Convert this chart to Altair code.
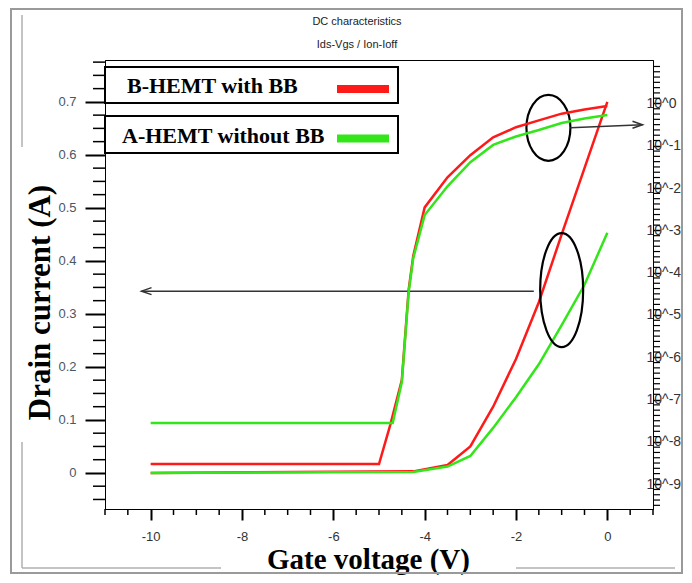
import altair as alt
import pandas as pd

# ---------------- data ----------------
series_names = ["B-HEMT with BB", "A-HEMT without BB"]
series_colors = ["#ff1a1a", "#33e61a"]

# linear Ids (left axis, A)
vgs_lin = [-10.0, -4.25, -3.5, -3.0, -2.5, -2.0, -1.5, -1.0, -0.5, 0.0]
ids_lin_b = [0.0, 0.003, 0.015, 0.05, 0.125, 0.215, 0.322, 0.45, 0.575, 0.70]
ids_lin_a = [0.0, 0.002, 0.012, 0.032, 0.085, 0.143, 0.205, 0.279, 0.355, 0.453]

# log Ids (right axis, A)
vgs_log_b = [-10.0, -5.0, -4.75, -4.5, -4.35, -4.25, -4.0, -3.5, -3.0, -2.5, -2.0, -1.5, -1.0, -0.5, 0.0]
ids_log_b = [3.0e-9, 3.0e-9, 2.6e-8, 2.9e-7, 4.0e-5, 2.5e-4, 3.5e-3, 1.8e-2, 6.0e-2,
             0.158, 0.275, 0.40, 0.575, 0.72, 0.87]
vgs_log_a = [-10.0, -4.7, -4.5, -4.35, -4.25, -4.0, -3.5, -3.0, -2.5, -2.0, -1.5, -1.0, -0.5, 0.0]
ids_log_a = [2.8e-8, 2.8e-8, 2.6e-7, 3.5e-5, 2.2e-4, 2.3e-3, 1.1e-2, 4.1e-2,
             0.105, 0.166, 0.236, 0.347, 0.44, 0.537]

# axis ticks
x_ticks = [-10, -8, -6, -4, -2, 0]
x_minor = [v / 2 for v in range(-22, 3) if v % 4 != 0]
y_ticks = [0.0, 0.1, 0.2, 0.3, 0.4, 0.5, 0.6, 0.7]
y_minor = [v / 40 for v in range(-2, 32) if v % 4 != 0]
log_ticks = [1e-9, 1e-8, 1e-7, 1e-6, 1e-5, 1e-4, 1e-3, 1e-2, 1e-1, 1.0]
log_minor = [10 ** (k / 8) for k in range(-76, 9) if k % 8 != 0]

# annotations (ellipse centres and arrows, in data units)
ell_vgs = [-1.29, -1.0]
ell_ids = [0.651, 0.345]
arrow1_vgs = [-0.81, 0.77]
arrow1_ids = [0.651, 0.657]
arrow2_vgs = [-1.61, -10.2]
arrow2_ids = [0.343, 0.343]

titles = ["DC characteristics", "Ids-Vgs / Ion-Ioff"]

# ---------------- chart ----------------
W, H = 548, 449
SERIF = "Liberation Serif"
SANS = "Liberation Sans"

x_scale = alt.Scale(domain=[-11, 1], nice=False, zero=False)
ylin_scale = alt.Scale(domain=[-0.068, 0.779], nice=False, zero=False)
ylog_scale = alt.Scale(type="log", domain=[2.59e-10, 10.67], nice=False)

x_axis = alt.Axis(values=x_ticks, labelExpr="'' + datum.value", tickSize=11, tickWidth=2,
                  tickColor="black", domainColor="black", labelFont=SANS, labelFontSize=13,
                  labelColor="#333333", labelPadding=10, grid=False,
                  title="Gate voltage (V)", titleFont=SERIF, titleFontSize=29,
                  titleFontWeight="bold", titleColor="black", titleX=263, titleY=50,
                  titleAlign="center", titleBaseline="middle")
left_axis = alt.Axis(values=y_ticks, format=".1~f", tickSize=20, tickWidth=2,
                     tickColor="black", domainColor="black", labelFont=SANS,
                     labelFontSize=13, labelColor="#4b5665", labelPadding=9, grid=False,
                     title="Drain current (A)", titleFont=SERIF, titleFontSize=31,
                     titleFontWeight="bold", titleColor="black", titleX=-65, titleY=242,
                     titleAngle=-90, titleAlign="center", titleBaseline="middle")
right_axis = alt.Axis(orient="right", values=log_ticks,
                      labelExpr="'10^' + round(log(datum.value) / LN10)",
                      tickSize=7, tickWidth=1.5, tickColor="black", domainColor="black",
                      labelFont=SANS, labelFontSize=14, labelColor="#333333",
                      labelPadding=-14, labelAlign="left", grid=False, title=None)

def df(xs, ys):
    return pd.DataFrame({"vgs": xs, "ids": ys})

X = alt.X("vgs:Q", scale=x_scale, axis=x_axis)
YL = alt.Y("ids:Q", scale=ylin_scale, axis=left_axis)
YG = alt.Y("ids:Q", scale=ylog_scale, axis=right_axis)

# linear group
red_lin = alt.Chart(df(vgs_lin, ids_lin_b)).mark_line(color=series_colors[0], strokeWidth=2.5).encode(x=X, y=YL)
green_lin = alt.Chart(df(vgs_lin, ids_lin_a)).mark_line(color=series_colors[1], strokeWidth=2.5).encode(x=X, y=YL)

ylin_minor = alt.Chart(pd.DataFrame({"ids": y_minor})).mark_rule(color="black", strokeWidth=1.5).encode(
    y=YL, x=alt.value(-12), x2=alt.value(0))
x_minor_rules = alt.Chart(pd.DataFrame({"vgs": x_minor})).mark_rule(color="black", strokeWidth=1.5).encode(
    x=X, y=alt.value(H), y2=alt.value(H + 6))

ell1 = alt.Chart(df(ell_vgs[:1], ell_ids[:1])).mark_point(
    shape="M0,-1.5C0.552,-1.5 1,-0.828 1,0C1,0.828 0.552,1.5 0,1.5C-0.552,1.5 -1,0.828 -1,0C-1,-0.828 -0.552,-1.5 0,-1.5Z",
    size=1936, filled=False, stroke="black", strokeWidth=2.2, opacity=1).encode(x=X, y=YL)
ell2 = alt.Chart(df(ell_vgs[1:], ell_ids[1:])).mark_point(
    shape="M0,-2.65C0.552,-2.65 1,-1.464 1,0C1,1.464 0.552,2.65 0,2.65C-0.552,2.65 -1,1.464 -1,0C-1,-1.464 -0.552,-2.65 0,-2.65Z",
    size=1849, filled=False, stroke="black", strokeWidth=2.2, opacity=1).encode(x=X, y=YL)

arr1 = alt.Chart(df(arrow1_vgs, arrow1_ids)).mark_line(color="#333333", strokeWidth=1.5).encode(x=X, y=YL)
arr2 = alt.Chart(df(arrow2_vgs, arrow2_ids)).mark_line(color="#333333", strokeWidth=1.5).encode(x=X, y=YL)
head1 = alt.Chart(df(arrow1_vgs[1:], arrow1_ids[1:])).mark_point(
    shape="M-1,-0.7L1,0L-1,0.7", size=100, filled=False, stroke="#333333", strokeWidth=1.5, opacity=1).encode(
    x=X, y=YL, xOffset=alt.value(-5))
head2 = alt.Chart(df(arrow2_vgs[1:], arrow2_ids[1:])).mark_point(
    shape="M1,-0.7L-1,0L1,0.7", size=100, filled=False, stroke="#333333", strokeWidth=1.5, opacity=1).encode(
    x=X, y=YL, xOffset=alt.value(5))

lin_group = alt.layer(red_lin, green_lin, ylin_minor, x_minor_rules, ell1, ell2, arr1, arr2, head1, head2)

# log group
red_log = alt.Chart(df(vgs_log_b, ids_log_b)).mark_line(color=series_colors[0], strokeWidth=2.5).encode(x=X, y=YG)
green_log = alt.Chart(df(vgs_log_a, ids_log_a)).mark_line(color=series_colors[1], strokeWidth=2.5).encode(x=X, y=YG)
ylog_minor = alt.Chart(pd.DataFrame({"ids": log_minor})).mark_rule(color="black", strokeWidth=1.2).encode(
    y=YG, x=alt.value(W), x2=alt.value(W + 7))
log_group = alt.layer(red_log, green_log, ylog_minor)

# decorations: legend boxes, titles, frame
one = pd.DataFrame({"k": [0]})
legend_layers = []
for i, (name, col) in enumerate(zip(series_names, series_colors)):
    y0 = [7, 56][i]
    y1 = [43, 93][i]
    tx = [22, 17][i]
    legend_layers.append(alt.Chart(one).mark_rect(fill="white", stroke="black", strokeWidth=2).encode(
        x=alt.value(0), x2=alt.value(293), y=alt.value(y0), y2=alt.value(y1)))
    legend_layers.append(alt.Chart(pd.DataFrame({"label": [name]})).mark_text(
        align="left", baseline="middle", font=SERIF, fontSize=22, fontWeight="bold", color="black").encode(
        x=alt.value(tx), y=alt.value((y0 + y1) / 2 + 1), text="label:N"))
    legend_layers.append(alt.Chart(one).mark_rule(color=col, strokeWidth=8).encode(
        x=alt.value(232), x2=alt.value(284), y=alt.value((y0 + y1) / 2 + 4)))

title_layers = [
    alt.Chart(pd.DataFrame({"t": [titles[0]]})).mark_text(font=SANS, fontSize=11, color="#222222").encode(
        x=alt.value(252), y=alt.value(-38), text="t:N"),
    alt.Chart(pd.DataFrame({"t": [titles[1]]})).mark_text(font=SANS, fontSize=11, color="#222222").encode(
        x=alt.value(252), y=alt.value(-15), text="t:N"),
]

frame_layers = [
    alt.Chart(one).mark_rect(fillOpacity=0, stroke="#9a9a9a", strokeWidth=2).encode(
        x=alt.value(-94), x2=alt.value(577), y=alt.value(-51), y2=alt.value(513)),
    alt.Chart(one).mark_rule(color="#b0b0b0", strokeWidth=1.5).encode(
        x=alt.value(-83), y=alt.value(-45), y2=alt.value(87)),
    alt.Chart(one).mark_rule(color="#b0b0b0", strokeWidth=1.5).encode(
        x=alt.value(-83), y=alt.value(382), y2=alt.value(508)),
    alt.Chart(one).mark_rule(color="#b0b0b0", strokeWidth=1.5).encode(
        x=alt.value(-83), x2=alt.value(116), y=alt.value(508)),
    alt.Chart(one).mark_rule(color="#b0b0b0", strokeWidth=1.5).encode(
        x=alt.value(411), x2=alt.value(570), y=alt.value(508)),
]

chart = alt.layer(
    lin_group, log_group, *legend_layers, *title_layers, *frame_layers
).resolve_scale(y="independent").properties(
    width=W, height=H, autosize="none",
    padding={"left": 97, "top": 52, "right": 31, "bottom": 66},
    background="white",
).configure_view(stroke="black", strokeWidth=1)

chart.save("out.html", embed_options={"renderer": "svg", "actions": False})
